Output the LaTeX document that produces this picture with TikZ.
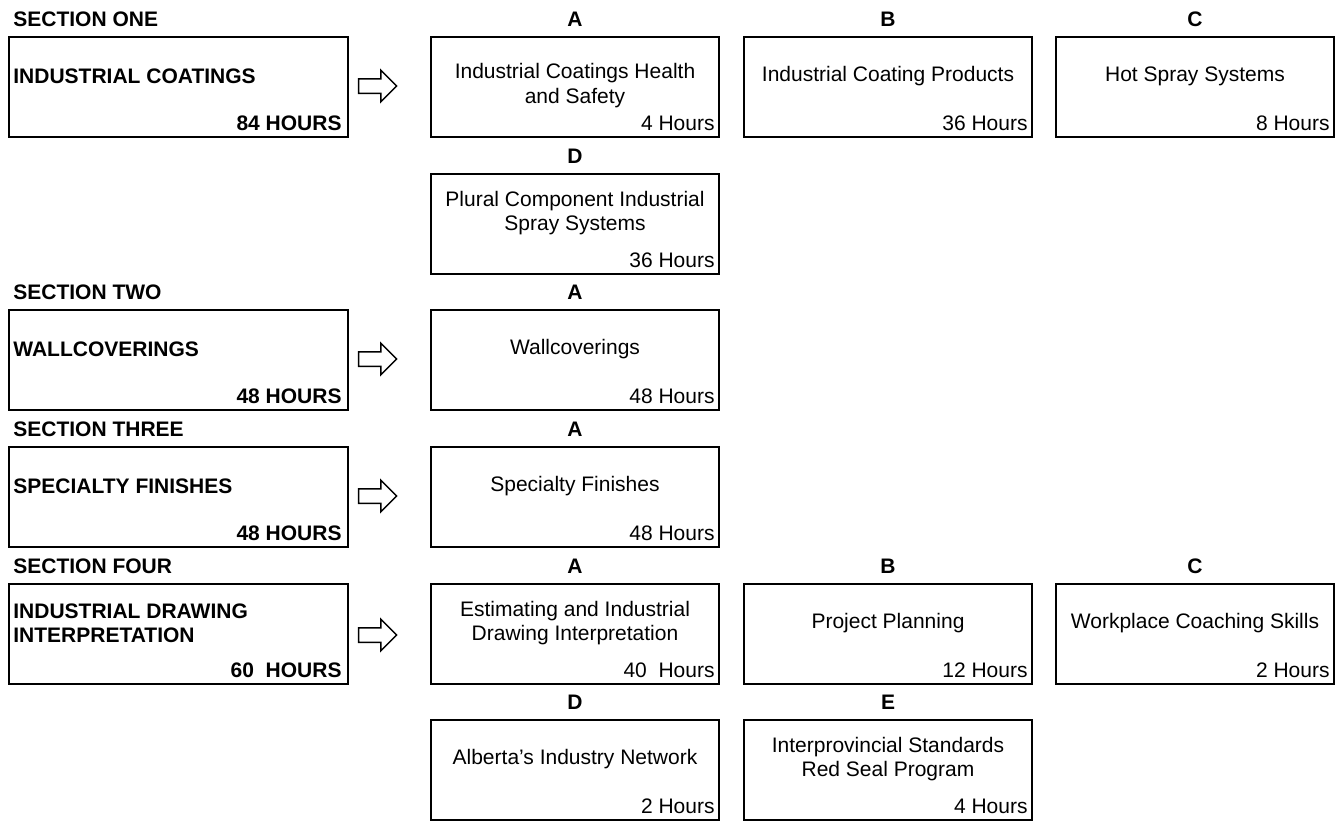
\documentclass[tikz,border=0pt]{standalone}
\usepackage{fontspec}
\setmainfont{Liberation Sans}
\usepackage{tikz}
\usetikzlibrary{shapes.arrows}

\newcommand{\boxfont}{\fontsize{10.5}{12.1}\selectfont}
\newcommand{\boxbold}{\fontsize{10.5}{12.1}\selectfont\bfseries}

\begin{document}
\begin{tikzpicture}[x=0.5pt,y=-0.5pt,
  every node/.style={font=\boxfont, inner sep=0pt},
  secbox/.style={draw, line width=1pt, anchor=north west, minimum width=169.5pt, minimum height=50pt},
  modbox/.style={draw, line width=1pt, anchor=north west, minimum width=144pt, minimum height=50pt},
  narrowbox/.style={modbox, minimum width=139pt},
  sechead/.style={anchor=base west, font=\boxbold},
  letter/.style={anchor=base, font=\boxbold},
  sectitle/.style={anchor=west, align=left, font=\boxbold},
  modtitle/.style={align=center},
  hrs/.style={anchor=base east},
  sechrs/.style={anchor=base east, font=\boxbold},
  blockarrow/.style={draw, single arrow, line width=0.75pt, inner xsep=0pt, inner ysep=3.25pt,
    minimum width=15pt, minimum height=19pt, single arrow head extend=4.25pt}]
\useasboundingbox (0,0) rectangle (1339,821);

% section one
\node[secbox] (s1) at (8,36) {};
\node[sechead] (s1l) at ([xshift=2.5pt,yshift=5pt]s1.north west) {SECTION ONE};
\node[sectitle] (s1t) at ([xshift=2.5pt,yshift=5.5pt]s1.west) {INDUSTRIAL COATINGS};
\node[sechrs] (s1h) at ([xshift=-3.5pt,yshift=4pt]s1.south east) {84 HOURS};
\node[blockarrow] (ar1) at (374,86) {};

\node[modbox] (s1a) at (430,36) {};
\node[letter] (s1al) at ([yshift=5pt]s1a.north) {A};
\node[modtitle] (s1at) at ([yshift=0.75pt]s1a.center) {Industrial Coatings Health\\and Safety};
\node[hrs] (s1ah) at ([xshift=-2.5pt,yshift=4pt]s1a.south east) {4 Hours};

\node[modbox] (s1b) at (743,36) {};
\node[letter] (s1bl) at ([yshift=5pt]s1b.north) {B};
\node[modtitle] (s1bt) at ([yshift=5.5pt]s1b.center) {Industrial Coating Products};
\node[hrs] (s1bh) at ([xshift=-2.5pt,yshift=4pt]s1b.south east) {36 Hours};

\node[narrowbox] (s1c) at (1055,36) {};
\node[letter] (s1cl) at ([yshift=5pt]s1c.north) {C};
\node[modtitle] (s1ct) at ([yshift=5.5pt]s1c.center) {Hot Spray Systems};
\node[hrs] (s1ch) at ([xshift=-2.5pt,yshift=4pt]s1c.south east) {8 Hours};

\node[modbox] (s1d) at (430,173) {};
\node[letter] (s1dl) at ([yshift=5pt]s1d.north) {D};
\node[modtitle] (s1dt) at ([yshift=5.5pt]s1d.center) {Plural Component Industrial\\Spray Systems};
\node[hrs] (s1dh) at ([xshift=-2.5pt,yshift=4pt]s1d.south east) {36 Hours};

% section two
\node[secbox] (s2) at (8,309) {};
\node[sechead] (s2l) at ([xshift=2.5pt,yshift=5pt]s2.north west) {SECTION TWO};
\node[sectitle] (s2t) at ([xshift=2.5pt,yshift=5.5pt]s2.west) {WALLCOVERINGS};
\node[sechrs] (s2h) at ([xshift=-3.5pt,yshift=4pt]s2.south east) {48 HOURS};
\node[blockarrow] (ar2) at (374,359) {};

\node[modbox] (s2a) at (430,309) {};
\node[letter] (s2al) at ([yshift=5pt]s2a.north) {A};
\node[modtitle] (s2at) at ([yshift=5.5pt]s2a.center) {Wallcoverings};
\node[hrs] (s2ah) at ([xshift=-2.5pt,yshift=4pt]s2a.south east) {48 Hours};

% section three
\node[secbox] (s3) at (8,446) {};
\node[sechead] (s3l) at ([xshift=2.5pt,yshift=5pt]s3.north west) {SECTION THREE};
\node[sectitle] (s3t) at ([xshift=2.5pt,yshift=5.5pt]s3.west) {SPECIALTY FINISHES};
\node[sechrs] (s3h) at ([xshift=-3.5pt,yshift=4pt]s3.south east) {48 HOURS};
\node[blockarrow] (ar3) at (374,496) {};

\node[modbox] (s3a) at (430,446) {};
\node[letter] (s3al) at ([yshift=5pt]s3a.north) {A};
\node[modtitle] (s3at) at ([yshift=5.5pt]s3a.center) {Specialty Finishes};
\node[hrs] (s3ah) at ([xshift=-2.5pt,yshift=4pt]s3a.south east) {48 Hours};

% section four
\node[secbox] (s4) at (8,583) {};
\node[sechead] (s4l) at ([xshift=2.5pt,yshift=5pt]s4.north west) {SECTION FOUR};
\node[sectitle] (s4t) at ([xshift=2.5pt,yshift=5.5pt]s4.west) {INDUSTRIAL DRAWING\\INTERPRETATION};
\node[sechrs] (s4h) at ([xshift=-3.5pt,yshift=4pt]s4.south east) {60\ \ HOURS};
\node[blockarrow] (ar4) at (374,635) {};

\node[modbox] (s4a) at (430,583) {};
\node[letter] (s4al) at ([yshift=5pt]s4a.north) {A};
\node[modtitle] (s4at) at ([yshift=5.5pt]s4a.center) {Estimating and Industrial\\Drawing Interpretation};
\node[hrs] (s4ah) at ([xshift=-2.5pt,yshift=4pt]s4a.south east) {40\ \ Hours};

\node[modbox] (s4b) at (743,583) {};
\node[letter] (s4bl) at ([yshift=5pt]s4b.north) {B};
\node[modtitle] (s4bt) at ([yshift=5.5pt]s4b.center) {Project Planning};
\node[hrs] (s4bh) at ([xshift=-2.5pt,yshift=4pt]s4b.south east) {12 Hours};

\node[narrowbox] (s4c) at (1055,583) {};
\node[letter] (s4cl) at ([yshift=5pt]s4c.north) {C};
\node[modtitle] (s4ct) at ([yshift=5.5pt]s4c.center) {Workplace Coaching Skills};
\node[hrs] (s4ch) at ([xshift=-2.5pt,yshift=4pt]s4c.south east) {2 Hours};

\node[modbox] (s4d) at (430,719) {};
\node[letter] (s4dl) at ([yshift=5pt]s4d.north) {D};
\node[modtitle] (s4dt) at ([yshift=5.5pt]s4d.center) {Alberta’s Industry Network};
\node[hrs] (s4dh) at ([xshift=-2.5pt,yshift=4pt]s4d.south east) {2 Hours};

\node[modbox] (s4e) at (743,719) {};
\node[letter] (s4el) at ([yshift=5pt]s4e.north) {E};
\node[modtitle] (s4et) at ([yshift=5.5pt]s4e.center) {Interprovincial Standards\\Red Seal Program};
\node[hrs] (s4eh) at ([xshift=-2.5pt,yshift=4pt]s4e.south east) {4 Hours};
\end{tikzpicture}
\end{document}
